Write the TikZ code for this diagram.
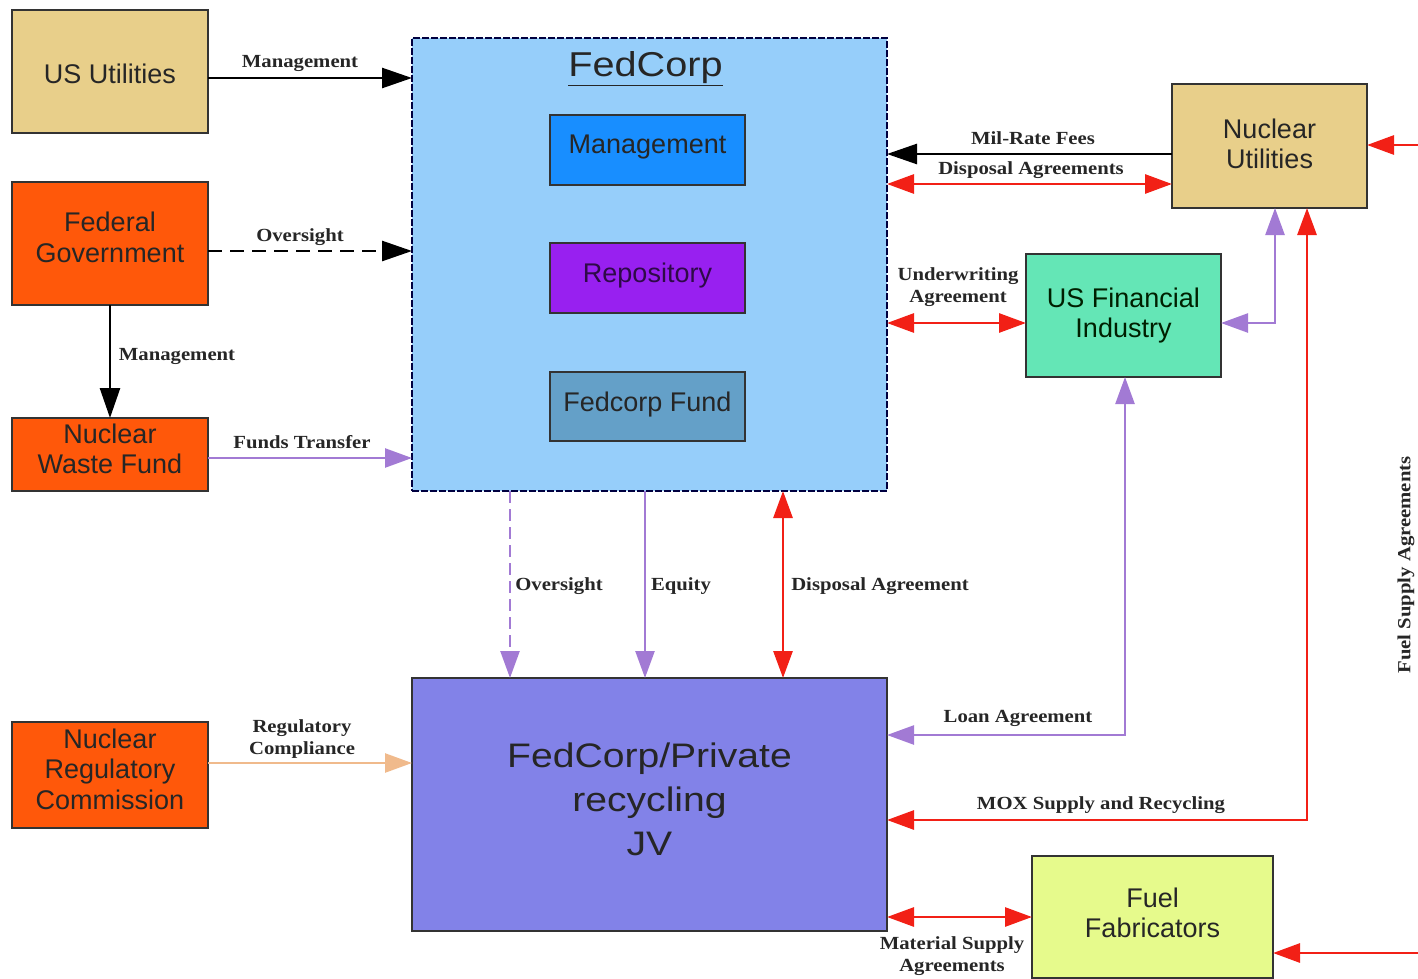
\documentclass[tikz,border=0pt]{standalone}
\usepackage{fontspec}
\setmainfont{Liberation Serif}
\setsansfont{Liberation Sans}
\newfontfamily\lblfont[FakeStretch=1.12]{Liberation Serif}
\newfontfamily\widesans[FakeStretch=1.15]{Liberation Sans}
\usetikzlibrary{arrows.meta}
\definecolor{tanbox}{RGB}{232,207,138}
\definecolor{orangebox}{RGB}{255,88,10}
\definecolor{fcblue}{RGB}{150,206,250}
\definecolor{mgmtblue}{RGB}{24,142,255}
\definecolor{repoviolet}{RGB}{152,32,240}
\definecolor{fundblue}{RGB}{100,160,200}
\definecolor{jvblue}{RGB}{130,130,232}
\definecolor{mintbox}{RGB}{100,230,182}
\definecolor{yellowbox}{RGB}{230,250,140}
\definecolor{purplearrow}{RGB}{162,122,212}
\definecolor{redarrow}{RGB}{242,32,22}
\definecolor{peacharrow}{RGB}{240,186,140}
\begin{document}
\begin{tikzpicture}[x=1pt,y=-1pt,
  box/.style={draw=black!80, line width=1.5pt, inner sep=0pt, outer sep=0pt},
  btext/.style={font=\sffamily\fontsize{27}{30.5}\selectfont, text=black!85, align=center, inner sep=0pt},
  lbl/.style={font=\lblfont\bfseries\fontsize{18.5}{22}\selectfont, text=black!85, inner sep=1pt, align=center},
  mytip/.tip={Triangle[length=27pt,width=19pt]},
  bconn/.style={line width=2.6pt, draw=black, -{Triangle[length=30pt,width=20pt]}},
  pconn/.style={line width=2.5pt, draw=purplearrow, -{mytip}},
  pdconn/.style={line width=2.5pt, draw=purplearrow, {mytip}-{mytip}},
  rconn/.style={line width=2.8pt, draw=redarrow, -{mytip}},
  rdconn/.style={line width=2.8pt, draw=redarrow, {mytip}-{mytip}},
  oconn/.style={line width=2.5pt, draw=peacharrow, -{mytip}}
]
\useasboundingbox (0,0) rectangle (1418,979);

% left column
\node[box, fill=tanbox, minimum width=196pt, minimum height=123pt,
  label={[btext, yshift=-2.5pt]center:US Utilities}] (usu) at (110,71.5) {};
\node[box, fill=orangebox, minimum width=196pt, minimum height=123pt,
  label={[btext, yshift=6pt]center:Federal\\Government}] (fg) at (110,243.5) {};
\node[box, fill=orangebox, minimum width=196pt, minimum height=73pt,
  label={[btext, yshift=5.5pt]center:Nuclear\\Waste Fund}] (nwf) at (110,454.5) {};
\node[box, fill=orangebox, minimum width=196pt, minimum height=106pt,
  label={[btext, yshift=6pt]center:Nuclear\\Regulatory\\Commission}] (nrc) at (110,775) {};

% FedCorp
\node[draw=black!75!blue, line width=1.5pt, dash pattern=on 7pt off 2pt, fill=fcblue,
  minimum width=475pt, minimum height=453pt, inner sep=0pt, outer sep=0pt] (fc) at (649.5,264.5) {};
\node[font=\widesans\fontsize{34.5}{40}\selectfont, text=black!85, inner sep=0pt, anchor=base] (title) at (645.5,77) {\underline{FedCorp}};
\node[box, fill=mgmtblue, minimum width=195pt, minimum height=70pt,
  label={[btext, yshift=3pt]center:Management}] (mgmt) at (647.5,150) {};
\node[box, fill=repoviolet, minimum width=195pt, minimum height=70pt,
  label={[btext, yshift=2pt, text=black!70!repoviolet]center:Repository}] (repo) at (647.5,278) {};
\node[box, fill=fundblue, minimum width=195pt, minimum height=69pt,
  label={[btext, yshift=2pt]center:Fedcorp Fund}] (fund) at (647.5,406.5) {};

% JV
\node[box, fill=jvblue, minimum width=475pt, minimum height=253pt,
  label={[btext, yshift=5.5pt, font=\widesans\fontsize{34}{44}\selectfont]center:FedCorp/Private\\recycling\\JV}] (jv) at (649.5,804.5) {};

% right side
\node[box, fill=tanbox, minimum width=195pt, minimum height=124pt,
  label={[btext, yshift=2pt]center:Nuclear\\Utilities}] (nu) at (1269.5,146) {};
\node[box, fill=mintbox, minimum width=195pt, minimum height=123pt,
  label={[btext, yshift=0pt, text=black!70!green!40!black]center:US Financial\\Industry}] (usf) at (1123.5,315.5) {};
\node[box, fill=yellowbox, minimum width=241pt, minimum height=122pt,
  label={[btext, yshift=4pt]center:Fuel\\Fabricators}] (ff) at (1152.5,917) {};

\coordinate (e1) at (1422,145);
\coordinate (e2) at (1422,953);

% connectors left
\draw[bconn] ([yshift=-6.5pt]usu.east) -- ([yshift=-6.5pt]usu.east -| fc.west);
\draw[bconn, dash pattern=on 14pt off 8pt] ([yshift=-7.5pt]fg.east) -- ([yshift=-7.5pt]fg.east -| fc.west);
\draw[bconn] (fg.south) -- (nwf.north);
\draw[pconn] ([yshift=-3.5pt]nwf.east) -- ([yshift=-3.5pt]nwf.east -| fc.west);
\draw[oconn] ([yshift=12pt]nrc.east) -- ([yshift=12pt]nrc.east -| jv.west);

% FedCorp to JV
\draw[pconn, dash pattern=on 12pt off 6pt] ([xshift=-139.5pt]fc.south) -- ([xshift=-139.5pt]fc.south |- jv.north);
\draw[pconn] ([xshift=-4.5pt]fc.south) -- ([xshift=-4.5pt]fc.south |- jv.north);
\draw[rdconn] ([xshift=133.5pt]fc.south) -- ([xshift=133.5pt]fc.south |- jv.north);

% right connectors
\draw[bconn] ([yshift=-8pt]nu.west) -- ([yshift=-8pt]nu.west -| fc.east);
\draw[rdconn] ([yshift=-38pt]nu.west -| fc.east) -- ([yshift=-38pt]nu.west);
\draw[rdconn] ([yshift=-7.5pt]usf.west -| fc.east) -- ([yshift=-7.5pt]usf.west);
\draw[pdconn] ([yshift=-7.5pt]usf.east) -| ([xshift=5.5pt]nu.south);
\draw[pdconn] ([xshift=1.5pt]usf.south) |- ([yshift=69.5pt]jv.east);
\draw[rdconn] ([xshift=37.5pt]nu.south) |- ([yshift=-15.5pt]jv.east);
\draw[rdconn] (ff.west -| jv.east) -- (ff.west);
\draw[rconn] (e1) -- (e1 -| nu.east);
\draw[rconn] (e2) -- (e2 -| ff.east);

% labels
\node[lbl] (l1) at (300,63) {Management};
\node[lbl] (l2) at (300,237) {Oversight};
\node[lbl] (l3) at (177,356) {Management};
\node[lbl] (l4) at (302,442) {Funds Transfer};
\node[lbl] (l5) at (302,739) {Regulatory\\Compliance};
\node[lbl] (l6) at (559,586) {Oversight};
\node[lbl] (l7) at (681,586) {Equity};
\node[lbl] (l8) at (880,586) {Disposal Agreement};
\node[lbl] (l9) at (1033,138) {Mil-Rate Fees};
\node[lbl] (l10) at (1031,170) {Disposal Agreements};
\node[lbl] (l11) at (958,287) {Underwriting\\Agreement};
\node[lbl] (l12) at (1018,718) {Loan Agreement};
\node[lbl] (l13) at (1101,805) {MOX Supply and Recycling};
\node[lbl] (l14) at (952,956) {Material Supply\\Agreements};
\node[lbl, rotate=90] (l15) at (1406,565) {Fuel Supply Agreements};
\end{tikzpicture}
\end{document}
